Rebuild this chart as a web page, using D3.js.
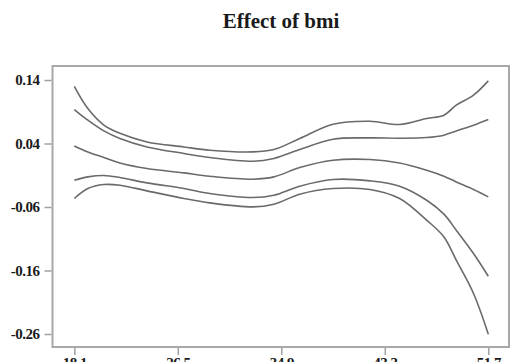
<!DOCTYPE html>
<html>
<head>
<meta charset="utf-8">
<script src="https://cdn.jsdelivr.net/npm/d3@7"></script>
<style>
  body { margin: 0; background: #fff; }
  svg { display: block; }
  text { font-family: "Liberation Serif", "DejaVu Serif", serif; font-weight: bold; fill: #1a1a1a; }
</style>
</head>
<body>
<div id="chart"></div>
<script>
// bmi grid the curves are read at
var bmi = [18.1, 19.2, 20.5, 21.8, 24.0, 27.0, 29.1, 32.6, 34.3, 36.4, 39.1, 42.1, 44.5, 46.7, 48.1, 49.1, 50.5, 51.7];
// outer upper band
var upper2 = [0.130, 0.095, 0.069, 0.056, 0.0425, 0.0346, 0.0294, 0.0268, 0.0306, 0.0479, 0.0704, 0.0751, 0.0699, 0.0794, 0.0846, 0.1003, 0.1161, 0.1386];
// inner upper band
var upper1 = [0.0935, 0.0767, 0.0598, 0.0479, 0.0346, 0.0243, 0.0180, 0.0121, 0.0164, 0.0306, 0.0468, 0.0488, 0.0483, 0.0494, 0.0531, 0.0598, 0.0688, 0.0778];
// estimated effect
var effect = [0.0362, 0.0268, 0.0180, 0.0094, 0.0006, -0.0063, -0.0115, -0.0162, -0.0126, 0.0022, 0.0137, 0.0148, 0.0094, -0.0020, -0.0115, -0.0205, -0.0324, -0.0441];
// inner lower band
var lower1 = [-0.0178, -0.0126, -0.0104, -0.0135, -0.0220, -0.0309, -0.0387, -0.0450, -0.0414, -0.0272, -0.0167, -0.0189, -0.0272, -0.0493, -0.0713, -0.0965, -0.1332, -0.1690];
// outer lower band
var lower2 = [-0.0466, -0.0309, -0.0246, -0.0257, -0.0346, -0.0466, -0.0535, -0.0598, -0.0556, -0.0398, -0.0309, -0.0324, -0.0466, -0.0808, -0.1071, -0.1438, -0.1962, -0.2603];

var yTicks = [0.14, 0.04, -0.06, -0.16, -0.26];
var xTicks = [18.1, 26.5, 34.9, 43.3, 51.7];

var width = 510, height = 362;
var svg = d3.select("#chart").append("svg").attr("width", width).attr("height", height);

var frameL = 52.5, frameR = 509, frameT = 66, frameB = 347;

var x = d3.scaleLinear().domain([18.1, 51.7]).range([74.3, 488.3]);
var y = d3.scaleLinear().domain([0.14, -0.26]).range([80, 334]);

svg.append("text").attr("x", 281).attr("y", 28).attr("text-anchor", "middle")
    .attr("font-size", 21).text("Effect of bmi");

// frame
svg.append("rect").attr("x", frameL).attr("y", frameT).attr("width", frameR - frameL).attr("height", frameB - frameT)
    .attr("fill", "none").attr("stroke", "#a8a8a8").attr("stroke-width", 2);

var fmt2 = d3.format(".2f"), fmt1 = d3.format(".1f");
var yAxis = svg.append("g").attr("transform", "translate(" + (frameL - 1) + ",0)")
    .call(d3.axisLeft(y).tickValues(yTicks).tickSize(7).tickPadding(5)
        .tickFormat(function(d){ return fmt2(d).replace("\u2212", "-"); }));
var xAxis = svg.append("g").attr("transform", "translate(0," + (frameB + 1) + ")")
    .call(d3.axisBottom(x).tickValues(xTicks).tickSize(7).tickPadding(2).tickFormat(fmt1));

[yAxis, xAxis].forEach(function(a){
    a.select(".domain").remove();
    a.selectAll(".tick line").attr("stroke", "#a0a0a0").attr("stroke-width", 1.5);
    a.selectAll(".tick text").attr("font-size", 15).attr("fill", "#1a1a1a")
        .attr("font-family", "Liberation Serif, serif").attr("font-weight", "bold").attr("letter-spacing", -0.5);
});

var line = d3.line()
    .x(function(d){ return x(d[0]); })
    .y(function(d){ return y(d[1]); })
    .curve(d3.curveCatmullRom.alpha(0.5));

[upper2, upper1, effect, lower1, lower2].forEach(function(s){
    svg.append("path").datum(bmi.map(function(b, i){ return [b, s[i]]; }))
        .attr("d", line).attr("fill", "none").attr("stroke", "#6a6a6a").attr("stroke-width", 1.6);
});
</script>
</body>
</html>
